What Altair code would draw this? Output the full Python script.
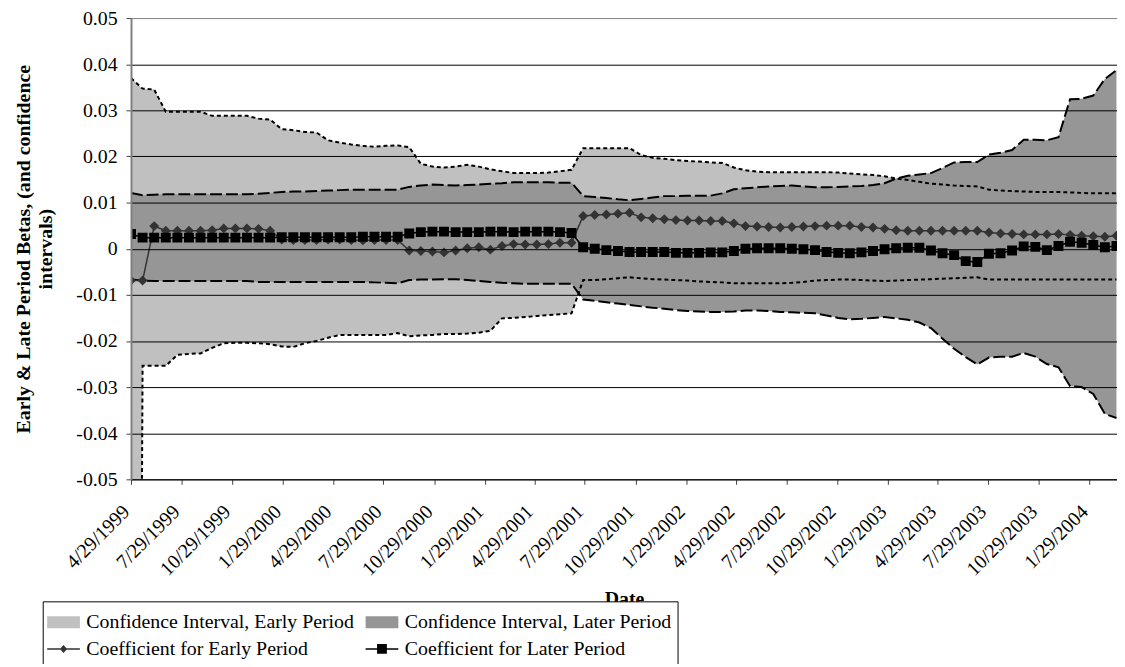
import altair as alt
import pandas as pd

# ---------------- data ----------------
START_DATE = "1999-04-29"
STEP = "21D"

EARLY_UPPER = [0.037, 0.0347, 0.0345, 0.0297, 0.0297, 0.0297, 0.0297, 0.0288, 0.0288, 0.0288,
               0.0288, 0.0282, 0.028, 0.0259, 0.0257, 0.0253, 0.0252, 0.0235, 0.023, 0.0226,
               0.0223, 0.0221, 0.0223, 0.0224, 0.022, 0.0184, 0.0178, 0.0176, 0.0178, 0.0182,
               0.0178, 0.0172, 0.0168, 0.0164, 0.0164, 0.0164, 0.0165, 0.0168, 0.0171, 0.0218,
               0.0218, 0.0218, 0.0218, 0.0218, 0.0203, 0.0197, 0.0195, 0.0192, 0.019, 0.0189,
               0.0187, 0.0186, 0.0176, 0.017, 0.0167, 0.0166, 0.0166, 0.0166, 0.0166, 0.0166,
               0.0166, 0.0165, 0.0163, 0.0161, 0.016, 0.0157, 0.0152, 0.0149, 0.0145, 0.0141,
               0.0139, 0.0137, 0.0136, 0.0135, 0.0128, 0.0126, 0.0125, 0.0124, 0.0123, 0.0123,
               0.0123, 0.0122, 0.0121, 0.012, 0.012, 0.012]

EARLY_LOWER = [-0.5, -0.0254, -0.0254, -0.0254, -0.023, -0.0228, -0.0227, -0.0215, -0.0205, -0.0204,
               -0.0204, -0.0205, -0.0207, -0.0212, -0.0213, -0.0205, -0.02, -0.0193, -0.0187, -0.0187,
               -0.0187, -0.0187, -0.0187, -0.0183, -0.019, -0.0188, -0.0187, -0.0185, -0.0185, -0.0184,
               -0.0182, -0.0178, -0.0151, -0.015, -0.0148, -0.0146, -0.0144, -0.0142, -0.014, -0.0068,
               -0.0068, -0.0066, -0.0064, -0.0062, -0.0064, -0.0066, -0.0067, -0.0068, -0.0069, -0.0071,
               -0.0072, -0.0073, -0.0075, -0.0075, -0.0075, -0.0075, -0.0075, -0.0074, -0.0072, -0.0069,
               -0.0068, -0.0067, -0.0067, -0.0068, -0.0069, -0.007, -0.0069, -0.0068, -0.0067, -0.0066,
               -0.0065, -0.0064, -0.0063, -0.0062, -0.0067, -0.0067, -0.0067, -0.0067, -0.0067, -0.0067,
               -0.0067, -0.0067, -0.0067, -0.0067, -0.0067, -0.0067]

LATER_UPPER = [0.0121, 0.0116, 0.0117, 0.0118, 0.0118, 0.0118, 0.0118, 0.0118, 0.0118, 0.0118,
               0.0118, 0.0119, 0.0121, 0.0123, 0.0124, 0.0124, 0.0125, 0.0126, 0.0127, 0.0128,
               0.0128, 0.0128, 0.0128, 0.0128, 0.0134, 0.0137, 0.0139, 0.0138, 0.0137, 0.0138,
               0.0139, 0.0141, 0.0142, 0.0144, 0.0144, 0.0144, 0.0144, 0.0143, 0.0143, 0.0114,
               0.0112, 0.011, 0.0107, 0.0105, 0.0108, 0.0111, 0.0114, 0.0114, 0.0115, 0.0115,
               0.0115, 0.012, 0.0129, 0.0131, 0.0133, 0.0135, 0.0136, 0.0137, 0.0135, 0.0133,
               0.0133, 0.0134, 0.0135, 0.0136, 0.0138, 0.0142, 0.0152, 0.0158, 0.0161, 0.0164,
               0.0175, 0.0187, 0.0188, 0.0188, 0.0204, 0.0208, 0.0214, 0.0236, 0.0236, 0.0235,
               0.0242, 0.0324, 0.0325, 0.0332, 0.0368, 0.0387]

LATER_LOWER = [-0.0067, -0.0069, -0.007, -0.007, -0.007, -0.007, -0.007, -0.007, -0.007, -0.007,
               -0.007, -0.0072, -0.0072, -0.0072, -0.0072, -0.0072, -0.0072, -0.0072, -0.0072, -0.0072,
               -0.0072, -0.0073, -0.0074, -0.0075, -0.0068, -0.0067, -0.0067, -0.0066, -0.0066, -0.0068,
               -0.007, -0.0072, -0.0074, -0.0075, -0.0076, -0.0076, -0.0076, -0.0076, -0.0076, -0.011,
               -0.0113, -0.0116, -0.0119, -0.0122, -0.0125, -0.0128, -0.013, -0.0133, -0.0135, -0.0136,
               -0.0137, -0.0137, -0.0136, -0.0134, -0.0134, -0.0135, -0.0137, -0.0138, -0.0139, -0.014,
               -0.0145, -0.015, -0.0153, -0.0152, -0.015, -0.0148, -0.0151, -0.0154, -0.016, -0.0172,
               -0.0195, -0.0217, -0.0235, -0.0251, -0.0236, -0.0234, -0.0234, -0.0226, -0.0234, -0.025,
               -0.0257, -0.0298, -0.03, -0.0315, -0.0358, -0.0367]

COEF_EARLY = [-0.0069, -0.0069, 0.0049, 0.0039, 0.0039, 0.0039, 0.0039, 0.004, 0.0044, 0.0044,
              0.0044, 0.0043, 0.0039, 0.002, 0.0019, 0.0019, 0.0019, 0.002, 0.002, 0.0019,
              0.0018, 0.0019, 0.0019, 0.0019, -0.0004, -0.0005, -0.0006, -0.0008, -0.0004, 0.0001,
              0.0003, -0.0002, 0.0006, 0.001, 0.0009, 0.0009, 0.001, 0.0013, 0.0013, 0.0071,
              0.0073, 0.0074, 0.0076, 0.0078, 0.0068, 0.0066, 0.0064, 0.0062, 0.0061, 0.0061,
              0.006, 0.006, 0.0055, 0.0049, 0.0048, 0.0047, 0.0046, 0.0047, 0.0048, 0.0049,
              0.005, 0.005, 0.005, 0.0047, 0.0046, 0.0043, 0.004, 0.0039, 0.0039, 0.0039,
              0.0039, 0.0039, 0.0039, 0.0039, 0.0035, 0.0033, 0.0032, 0.0031, 0.0031, 0.0031,
              0.0032, 0.003, 0.0028, 0.0027, 0.0026, 0.0028]

COEF_LATER = [0.0032, 0.0024, 0.0024, 0.0024, 0.0024, 0.0024, 0.0024, 0.0024, 0.0024, 0.0024,
              0.0024, 0.0024, 0.0024, 0.0025, 0.0025, 0.0025, 0.0025, 0.0025, 0.0025, 0.0025,
              0.0026, 0.0026, 0.0026, 0.0026, 0.0033, 0.0036, 0.0037, 0.0037, 0.0036, 0.0036,
              0.0036, 0.0037, 0.0037, 0.0036, 0.0037, 0.0037, 0.0037, 0.0036, 0.0034, 0.0003,
              0.0, -0.0003, -0.0005, -0.0007, -0.0007, -0.0007, -0.0007, -0.0009, -0.0009, -0.0009,
              -0.0008, -0.0008, -0.0005, 0.0, 0.0001, 0.0001, 0.0001, 0.0, -0.0001, -0.0003,
              -0.0007, -0.0009, -0.001, -0.0008, -0.0005, -0.0001, 0.0001, 0.0002, 0.0002, -0.0004,
              -0.001, -0.0014, -0.0027, -0.0029, -0.0011, -0.001, -0.0004, 0.0005, 0.0004, -0.0003,
              0.0006, 0.0015, 0.0013, 0.0008, 0.0003, 0.0006]

TICK_DATES = ["1999-04-29", "1999-07-29", "1999-10-29", "2000-01-29", "2000-04-29",
              "2000-07-29", "2000-10-29", "2001-01-29", "2001-04-29", "2001-07-29",
              "2001-10-29", "2002-01-29", "2002-04-29", "2002-07-29", "2002-10-29",
              "2003-01-29", "2003-04-29", "2003-07-29", "2003-10-29", "2004-01-29"]
X_DOMAIN = ["1999-04-29", "2004-03-19"]
Y_TICKS = [0.05, 0.04, 0.03, 0.02, 0.01, 0, -0.01, -0.02, -0.03, -0.04, -0.05]

SERIES = ["Confidence Interval, Early Period", "Confidence Interval, Later Period",
          "Coefficient for Early Period", "Coefficient for Later Period"]
COLORS = ["#C0C0C0", "#969696", "#333333", "#000000"]
SHAPES = [
    "M-1.1,-0.4H1.1V0.4H-1.1Z",
    "M-1.1,-0.4H1.1V0.4H-1.1Z",
    "M-1.1,-0.05H1.1V0.05H-1.1Z M0,-0.27L0.24,0L0,0.27L-0.24,0Z",
    "M-1.1,-0.05H1.1V0.05H-1.1Z M-0.33,-0.33H0.33V0.33H-0.33Z",
]
Y_TITLE = ["Early & Late Period Betas, (and confidence", "intervals)"]

# ---------------- build ----------------
dates = pd.date_range(START_DATE, periods=len(EARLY_UPPER), freq=STEP).strftime("%Y-%m-%d").tolist()
df = pd.DataFrame({
    "date": dates, "eu": EARLY_UPPER, "el": EARLY_LOWER, "lu": LATER_UPPER,
    "ll": LATER_LOWER, "ce": COEF_EARLY, "cl": COEF_LATER,
})


def ms(d):
    return int((pd.Timestamp(d) - pd.Timestamp("1970-01-01")) // pd.Timedelta(milliseconds=1))


FONT = "Liberation Serif, Times New Roman, Times, serif"

x_axis = alt.Axis(
    values=[ms(d) for d in TICK_DATES],
    labelExpr="utcFormat(datum.value, '%-m/%-d/%Y')",
    labelAngle=-45, labelOverlap=False, labelFontSize=20, labelColor="black",
    labelPadding=17, labelOffset=-12, labelFont=FONT,
    tickSize=5, tickColor="#404040", domainColor="black", grid=False,
    title="Date", titleFontSize=20, titleFontWeight="bold", titleFont=FONT,
    titleColor="black", titleY=110, zindex=1,
)
y_axis = alt.Axis(
    values=Y_TICKS,
    labelExpr="datum.value == 0 ? '0' : (datum.value < 0 ? '-' : '') + format(abs(datum.value), '.2f')",
    grid=True,
    gridColor={"condition": {"test": "datum.value == 0.05", "value": "#808080"}, "value": "black"},
    gridWidth=1, gridOpacity=1,
    tickSize=5, tickColor="#404040", domainColor="#808080", domainWidth=2,
    labelFontSize=20, labelPadding=9, labelColor="black", labelFont=FONT,
    title=Y_TITLE, titleFontSize=20, titleFontWeight="bold", titleFont=FONT,
    titleColor="black", titlePadding=20, titleLineHeight=23, zindex=1,
)
x_scale = alt.Scale(type="utc", domain=[ms(d) for d in X_DOMAIN], nice=False)
y_scale = alt.Scale(domain=[-0.05, 0.05], nice=False, zero=False)

X = alt.X("date:T", scale=x_scale, axis=x_axis)


def Y(field):
    return alt.Y(f"{field}:Q", scale=y_scale, axis=y_axis)


legend = alt.Legend(
    title=None, orient="none", legendX=-89, legendY=588, direction="horizontal",
    columns=2, symbolSize=900, labelFont=FONT, labelFontSize=20, labelColor="black",
    labelLimit=500, labelOffset=8, columnPadding=11, rowPadding=2, padding=6,
    strokeColor="black", fillColor="white", symbolStrokeWidth=0, zindex=2,
)
fill_scale = alt.Scale(domain=SERIES, range=COLORS)
shape_scale = alt.Scale(domain=SERIES, range=SHAPES)

base = alt.Chart(df)

area_early = base.transform_calculate(series=f"'{SERIES[0]}'").mark_area(clip=True).encode(
    x=X, y=Y("eu"), y2="el:Q",
    fill=alt.Fill("series:N", scale=fill_scale, legend=legend))
area_later = base.transform_calculate(series=f"'{SERIES[1]}'").mark_area(clip=True).encode(
    x=X, y=Y("lu"), y2="ll:Q",
    fill=alt.Fill("series:N", scale=fill_scale, legend=legend))

early_dash = [4, 3]
later_dash = [12, 4]
bounds = [
    base.mark_line(clip=True, color="black", strokeWidth=2, strokeDash=early_dash).encode(x=X, y=Y("eu")),
    base.mark_line(clip=True, color="black", strokeWidth=2, strokeDash=early_dash).encode(x=X, y=Y("el")),
    base.mark_line(clip=True, color="black", strokeWidth=2, strokeDash=later_dash).encode(x=X, y=Y("lu")),
    base.mark_line(clip=True, color="black", strokeWidth=2, strokeDash=later_dash).encode(x=X, y=Y("ll")),
]

line_ce = base.mark_line(clip=True, color="#333333", strokeWidth=1.5).encode(x=X, y=Y("ce"))
pts_ce = base.mark_point(clip=True, shape="diamond", filled=True, size=100, color="#333333",
                         opacity=1).encode(x=X, y=Y("ce"))
line_cl = base.mark_line(clip=True, color="black", strokeWidth=1.5).encode(x=X, y=Y("cl"))
pts_cl = base.mark_point(clip=True, shape="square", filled=True, size=100, color="black",
                         opacity=1).encode(x=X, y=Y("cl"))

key = base.transform_filter("false").mark_point(filled=True, opacity=1, size=900).encode(
    x=X, y=Y("ce"),
    fill=alt.Fill("series:N", scale=fill_scale, legend=legend),
    shape=alt.Shape("series:N", scale=shape_scale, legend=legend))

chart = alt.layer(
    area_early, area_later, *bounds, line_ce, pts_ce, line_cl, pts_cl, key
).properties(
    width=994, height=465,
    padding={"left": 124, "top": 7.5, "right": 0, "bottom": 183},
    autosize=alt.AutoSizeParams(type="none"),
).configure(font=FONT).configure_view(stroke=None)

chart.save("out.html", embed_options={"renderer": "svg", "actions": False})
